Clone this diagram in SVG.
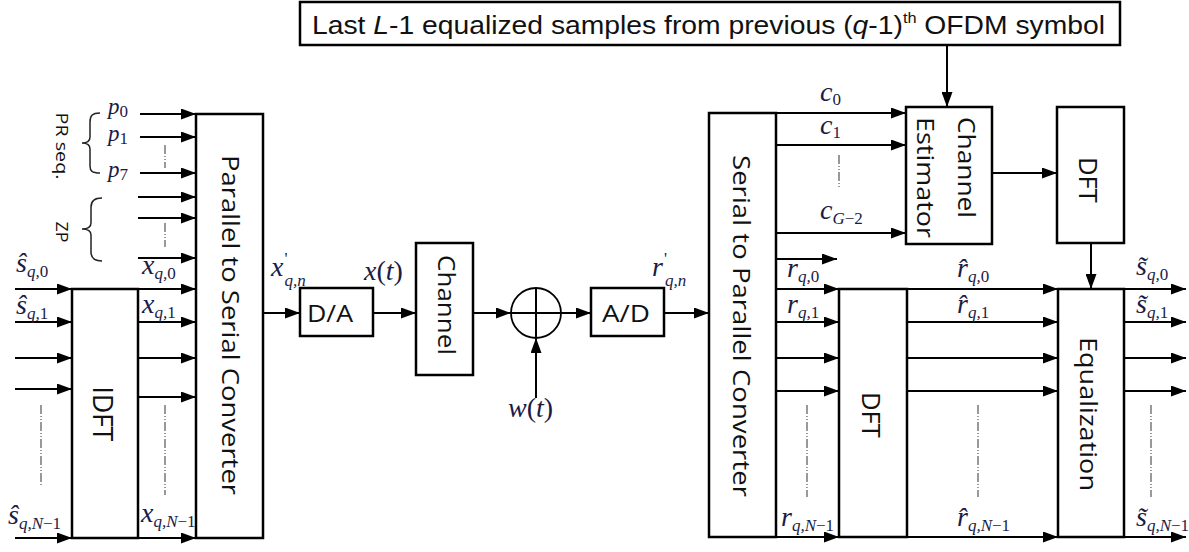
<svg xmlns="http://www.w3.org/2000/svg" width="1189" height="552" viewBox="0 0 1189 552">
<style>
.box{fill:#fff;stroke:#000;stroke-width:2.5}
.ln{fill:none;stroke:#000;stroke-width:2}
.ar{fill:none;stroke:#000;stroke-width:2;marker-end:url(#ah)}
.dd{fill:none;stroke:#555;stroke-width:1.2;stroke-dasharray:9 2 1 2 1 2}
.br{fill:none;stroke:#222;stroke-width:1.5}
.b{font-family:"Open Sans","Liberation Sans",sans-serif;font-size:24px;fill:#111}
.m{font-family:"Liberation Serif",serif;font-style:italic;font-size:28px;fill:#1b1b45}
.p{font-size:23px}
.s{font-size:17px}
.u{font-style:normal}
</style>
<defs>
<marker id="ah" markerUnits="userSpaceOnUse" markerWidth="15" markerHeight="11" viewBox="0 0 15 11" refX="15" refY="5.5" orient="auto"><path d="M0,0 L15,5.5 L0,11 z" fill="#000"/></marker>
</defs>

<g id="connectors">
<path class="ar" d="M140,114 H196"/>
<path class="ar" d="M140,137 H196"/>
<path class="ar" d="M140,173 H196"/>
<path class="ar" d="M138,197 H196"/>
<path class="ar" d="M138,218 H196"/>
<path class="ar" d="M138,258 H196"/>
<path class="ar" d="M15,289 H72"/>
<path class="ar" d="M15,322 H72"/>
<path class="ar" d="M15,358 H72"/>
<path class="ar" d="M15,389 H72"/>
<path class="ar" d="M15,538 H72"/>
<path class="ar" d="M138,289 H196"/>
<path class="ar" d="M138,322 H196"/>
<path class="ar" d="M138,358 H196"/>
<path class="ar" d="M138,397 H196"/>
<path class="ar" d="M138,538 H196"/>
<path class="ar" d="M263,313 H300"/>
<path class="ar" d="M373,313 H416"/>
<path class="ar" d="M473,313 H511"/>
<path class="ar" d="M561,313 H591"/>
<path class="ar" d="M664,313 H709"/>
<path class="ar" d="M536,398 V338"/>
<path class="ar" d="M947,45 V107"/>
<path class="ar" d="M776,113 H906"/>
<path class="ar" d="M776,145 H906"/>
<path class="ar" d="M776,233 H906"/>
<path class="ar" d="M776,259 H837"/>
<path class="ar" d="M776,289 H839"/>
<path class="ar" d="M776,322 H839"/>
<path class="ar" d="M776,358 H839"/>
<path class="ar" d="M776,391 H839"/>
<path class="ar" d="M776,537 H839"/>
<path class="ar" d="M907,289 H1058"/>
<path class="ar" d="M907,322 H1058"/>
<path class="ar" d="M907,358 H1058"/>
<path class="ar" d="M907,391 H1058"/>
<path class="ar" d="M907,537 H1058"/>
<path class="ar" d="M1124,289 H1186"/>
<path class="ar" d="M1124,322 H1186"/>
<path class="ar" d="M1124,358 H1186"/>
<path class="ar" d="M1124,391 H1186"/>
<path class="ar" d="M1124,537 H1186"/>
<path class="ar" d="M992,173 H1057"/>
<path class="ar" d="M1091,243 V289"/>
<path class="dd" d="M165,145 V168"/>
<path class="dd" d="M165,223 V247"/>
<path class="dd" d="M41,405 V487"/>
<path class="dd" d="M165,405 V495"/>
<path class="dd" d="M839,155 V188"/>
<path class="dd" d="M807,405 V497"/>
<path class="dd" d="M978,405 V497"/>
<path class="dd" d="M1151,405 V497"/>
</g>

<g id="braces">
<path class="br" d="M100,113 C92,113 90,116 90,122 L90,137 C90,141 87,143 82,143 C87,143 90,145 90,149 L90,166 C90,171 92,173 100,173"/>
<path class="br" d="M102,198 C94,198 91,201 91,207 L91,223 C91,227 88,229 82,229 C88,229 91,231 91,235 L91,252 C91,258 94,261 102,261"/>
<text class="b" style="font-size:17px" transform="translate(56,146) rotate(90)" text-anchor="middle" textLength="67" lengthAdjust="spacingAndGlyphs">PR seq.</text>
<text class="b" style="font-size:17px" transform="translate(56,232) rotate(90)" text-anchor="middle" textLength="21" lengthAdjust="spacingAndGlyphs">ZP</text>
</g>

<g id="top-box">
<rect class="box" x="300" y="2" width="820" height="43"/>
<text font-family="'Liberation Sans',sans-serif" font-size="26" fill="#111" x="312" y="34" textLength="793" lengthAdjust="spacingAndGlyphs">Last <tspan font-style="italic">L</tspan>-1 equalized samples from previous (<tspan font-style="italic">q</tspan>-1)<tspan font-size="15" dy="-11">th</tspan><tspan dy="11"> OFDM symbol</tspan></text>
</g>

<g id="idft">
<rect class="box" x="72" y="289" width="66" height="249"/>
<text class="b" style="font-size:28px" transform="translate(93,414) rotate(90)" text-anchor="middle" textLength="55" lengthAdjust="spacingAndGlyphs">IDFT</text>
</g>

<g id="ps">
<rect class="box" x="196" y="114" width="67" height="424"/>
<text class="b" transform="translate(222,325) rotate(90)" text-anchor="middle" textLength="340" lengthAdjust="spacingAndGlyphs">Parallel to Serial Converter</text>
</g>

<g id="da">
<rect class="box" x="300" y="288" width="73" height="48"/>
<text class="b" x="330" y="322" text-anchor="middle" textLength="46" lengthAdjust="spacingAndGlyphs">D/A</text>
</g>

<g id="channel">
<rect class="box" x="416" y="243" width="57" height="132"/>
<text class="b" transform="translate(438,305) rotate(90)" text-anchor="middle" textLength="100" lengthAdjust="spacingAndGlyphs">Channel</text>
</g>

<g id="adder">
<circle cx="536" cy="313" r="25" fill="#fff" stroke="#000" stroke-width="1.8"/>
<path class="ln" d="M511,313 H561 M536,288 V338"/>
</g>

<g id="ad">
<rect class="box" x="591" y="288" width="73" height="48"/>
<text class="b" x="626" y="322" text-anchor="middle" textLength="48" lengthAdjust="spacingAndGlyphs">A/D</text>
</g>

<g id="sp">
<rect class="box" x="709" y="113" width="67" height="424"/>
<text class="b" transform="translate(733,326) rotate(90)" text-anchor="middle" textLength="342" lengthAdjust="spacingAndGlyphs">Serial to Parallel Converter</text>
</g>

<g id="estimator">
<rect class="box" x="906" y="107" width="86" height="137"/>
<text class="b" transform="translate(958,117) rotate(90)" textLength="101" lengthAdjust="spacingAndGlyphs">Channel</text>
<text class="b" transform="translate(917,117) rotate(90)" textLength="121" lengthAdjust="spacingAndGlyphs">Estimator</text>
</g>

<g id="dft-top">
<rect class="box" x="1057" y="107" width="67" height="136"/>
<text class="b" style="font-size:26px" transform="translate(1079,180) rotate(90)" text-anchor="middle" textLength="46" lengthAdjust="spacingAndGlyphs">DFT</text>
</g>

<g id="dft">
<rect class="box" x="839" y="289" width="68" height="248"/>
<text class="b" style="font-size:26px" transform="translate(862,415) rotate(90)" text-anchor="middle" textLength="46" lengthAdjust="spacingAndGlyphs">DFT</text>
</g>

<g id="equalization">
<rect class="box" x="1058" y="289" width="66" height="248"/>
<text class="b" transform="translate(1080,414) rotate(90)" text-anchor="middle" textLength="154" lengthAdjust="spacingAndGlyphs">Equalization</text>
</g>

<g id="labels">
<text class="m p" x="108" y="114">p<tspan class="s u" dy="3">0</tspan></text>
<text class="m p" x="108" y="141">p<tspan class="s u" dy="3">1</tspan></text>
<text class="m p" x="108" y="177">p<tspan class="s u" dy="3">7</tspan></text>

<text class="m" x="16" y="272">ŝ<tspan class="s" dy="5">q,<tspan class="u">0</tspan></tspan></text>
<text class="m" x="16" y="314">ŝ<tspan class="s" dy="5">q,<tspan class="u">1</tspan></tspan></text>
<text class="m" x="8" y="524">ŝ<tspan class="s" dy="5">q,N<tspan class="u">−1</tspan></tspan></text>

<text class="m" x="142" y="274">x<tspan class="s" dy="5">q,<tspan class="u">0</tspan></tspan></text>
<text class="m" x="142" y="313">x<tspan class="s" dy="5">q,<tspan class="u">1</tspan></tspan></text>
<text class="m" x="141" y="522">x<tspan class="s" dy="5">q,N<tspan class="u">−1</tspan></tspan></text>

<text class="m" x="271" y="276">x<tspan class="s u" dx="1" dy="-12">'</tspan><tspan class="s" dx="-3" dy="22">q,n</tspan></text>
<text class="m" x="364" y="280">x<tspan class="u">(</tspan>t<tspan class="u">)</tspan></text>
<text class="m" x="652" y="276">r<tspan class="s u" dx="1" dy="-12">'</tspan><tspan class="s" dx="-2" dy="22">q,n</tspan></text>
<text class="m" x="508" y="417">w<tspan class="u">(</tspan>t<tspan class="u">)</tspan></text>

<text class="m" x="820" y="101">c<tspan class="s u" dy="4">0</tspan></text>
<text class="m" x="820" y="134">c<tspan class="s u" dy="4">1</tspan></text>
<text class="m" x="820" y="219">c<tspan class="s" dy="5">G<tspan class="u">−2</tspan></tspan></text>

<text class="m" x="787" y="277">r<tspan class="s" dy="5">q,<tspan class="u">0</tspan></tspan></text>
<text class="m" x="787" y="313">r<tspan class="s" dy="5">q,<tspan class="u">1</tspan></tspan></text>
<text class="m" x="781" y="526">r<tspan class="s" dy="5">q,N<tspan class="u">−1</tspan></tspan></text>

<text class="m" x="957" y="277">r̂<tspan class="s" dy="5">q,<tspan class="u">0</tspan></tspan></text>
<text class="m" x="957" y="313">r̂<tspan class="s" dy="5">q,<tspan class="u">1</tspan></tspan></text>
<text class="m" x="957" y="526">r̂<tspan class="s" dy="5">q,N<tspan class="u">−1</tspan></tspan></text>

<text class="m" x="1136" y="275">s̃<tspan class="s" dy="5">q,<tspan class="u">0</tspan></tspan></text>
<text class="m" x="1136" y="313">s̃<tspan class="s" dy="5">q,<tspan class="u">1</tspan></tspan></text>
<text class="m" x="1136" y="526">s̃<tspan class="s" dy="5">q,N<tspan class="u">−1</tspan></tspan></text>
</g>
</svg>
